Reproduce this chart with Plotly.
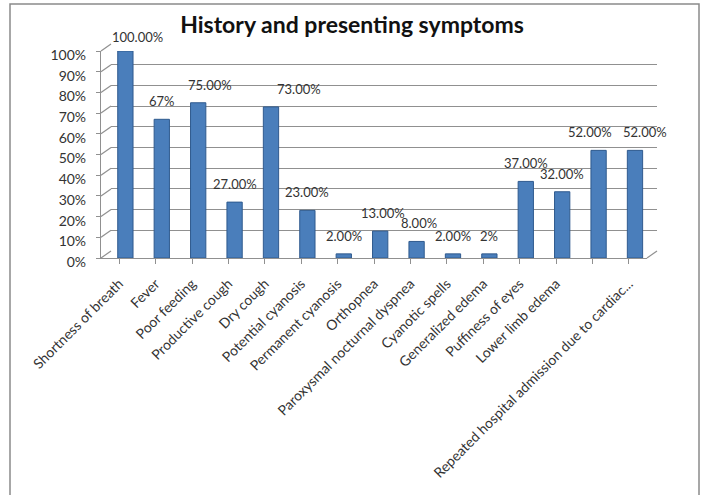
import plotly.graph_objects as go

categories = [
    "Shortness of breath", "Fever", "Poor feeding", "Productive cough", "Dry cough",
    "Potential cyanosis", "Permanent cyanosis", "Orthopnea",
    "Paroxysmal nocturnal dyspnea", "Cyanotic spells", "Generalized edema",
    "Puffiness of eyes", "Lower limb edema", "",
    "Repeated hospital admission due to cardiac...",
]
values = [100, 67, 75, 27, 73, 23, 2, 13, 8, 2, 2, 37, 32, 52, 52]
value_labels = ["100.00%", "67%", "75.00%", "27.00%", "73.00%", "23.00%", "2.00%",
                "13.00%", "8.00%", "2.00%", "2%", "37.00%", "32.00%", "52.00%", "52.00%"]
y_ticks = [0, 10, 20, 30, 40, 50, 60, 70, 80, 90, 100]
y_tick_labels = [f"{v}%" for v in y_ticks]

# horizontal nudge (px) of each value label relative to its bar (style only)
label_nudge = [12, 0, 12, 0, 28, 0, 0, 3, 2, 0, 0, 0, 0, -9, 10]

W, H = 704, 495
ML, MR, MT, MB = 101, 47, 44, 237
PW, PH = W - ML - MR, H - MT - MB
# front frame (pixels)
FX0, FX1, FYB, FYT = 101, 647, 258, 51
# back wall (pixels)
BX0, BX1, BYB, BYT = 111, 657, 251, 44

BAR_W = 0.42
BAR_OFF = -0.04
BAR_CENTER = BAR_OFF + BAR_W / 2


def fx(px):
    return (px - ML) / PW


def fy(py):
    return (H - MB - py) / PH


FONT = "Lato, 'Open Sans', sans-serif"
TXT = "#333333"
GRID = "#909090"

xs = list(range(len(values)))

fig = go.Figure()
# empty trace so the back-wall subplot (gridlines) is drawn
fig.add_trace(go.Scatter(x=[], y=[], xaxis="x", yaxis="y",
                         showlegend=False, hoverinfo="skip"))
fig.add_trace(go.Bar(
    x=xs, y=values,
    xaxis="x2", yaxis="y2",
    width=BAR_W, offset=BAR_OFF,
    marker=dict(color="#4A7EBB", line=dict(color="#2F5A8E", width=1)),
    showlegend=False, hoverinfo="skip",
))

annotations = []
for i, (v, t, dx) in enumerate(zip(values, value_labels, label_nudge)):
    annotations.append(dict(
        x=i + BAR_CENTER, y=v, xref="x2", yref="y2",
        text=t, showarrow=False, xanchor="center", yanchor="middle",
        xshift=dx, yshift=18 if v < 100 else 14,
        font=dict(family=FONT, size=13, color=TXT),
    ))

shapes = []
# left wall diagonals
for v in y_ticks:
    yf = FYB - v / 100 * (FYB - FYT)
    yb = BYB - v / 100 * (BYB - BYT)
    shapes.append(dict(type="line", xref="paper", yref="paper",
                       x0=fx(FX0), y0=fy(yf), x1=fx(BX0), y1=fy(yb),
                       line=dict(color=GRID, width=1.2)))
# floor right edge
shapes.append(dict(type="line", xref="paper", yref="paper",
                   x0=fx(FX1), y0=fy(FYB), x1=fx(BX1), y1=fy(BYB),
                   line=dict(color=GRID, width=1.2)))
# outer border
shapes.append(dict(type="rect", xref="paper", yref="paper",
                   x0=fx(10), y0=fy(505), x1=fx(699), y1=fy(4),
                   line=dict(color="#8a8a8a", width=1.5), layer="below"))

fig.update_layout(
    width=W, height=H,
    margin=dict(l=ML, r=MR, t=MT, b=MB),
    paper_bgcolor="white", plot_bgcolor="rgba(0,0,0,0)",
    title=dict(text="<b>History and presenting symptoms</b>",
               x=0.5, xanchor="center", y=1 - 25 / H, yanchor="middle",
               font=dict(family=FONT, size=23, color="#111111")),
    annotations=annotations,
    # back wall (gridlines)
    xaxis=dict(domain=[fx(BX0), fx(BX1)], anchor="y", range=[-0.5, 14.5],
               showgrid=False, showticklabels=False, ticks="", zeroline=False,
               showline=False),
    yaxis=dict(domain=[fy(BYB), fy(BYT)], anchor="x", range=[0, 100],
               tickvals=y_ticks, showgrid=True, gridcolor=GRID, gridwidth=1.3,
               showticklabels=False, ticks="", zeroline=False, showline=False),
    # front (bars, labels)
    xaxis2=dict(domain=[fx(FX0), fx(FX1)], anchor="y2", range=[-0.5, 14.5],
                tickmode="array", tickvals=xs,
                ticktext=categories, tickangle=-45,
                tickfont=dict(family=FONT, size=14, color=TXT),
                ticks="outside", ticklen=5, tickcolor=GRID, ticklabelstandoff=6,
                showline=True, linecolor=GRID, linewidth=1.2,
                showgrid=False, zeroline=False),
    yaxis2=dict(domain=[fy(FYB), fy(FYT)], anchor="x2", range=[0, 100],
                tickvals=y_ticks, ticktext=y_tick_labels,
                tickfont=dict(family=FONT, size=14, color=TXT),
                ticks="outside", ticklen=4, tickcolor=GRID, ticklabelstandoff=7,
                ticklabelshift=4,
                showline=True, linecolor=GRID, linewidth=1.2,
                showgrid=False, zeroline=False),
    shapes=shapes,
)

fig.write_html("out.html")
